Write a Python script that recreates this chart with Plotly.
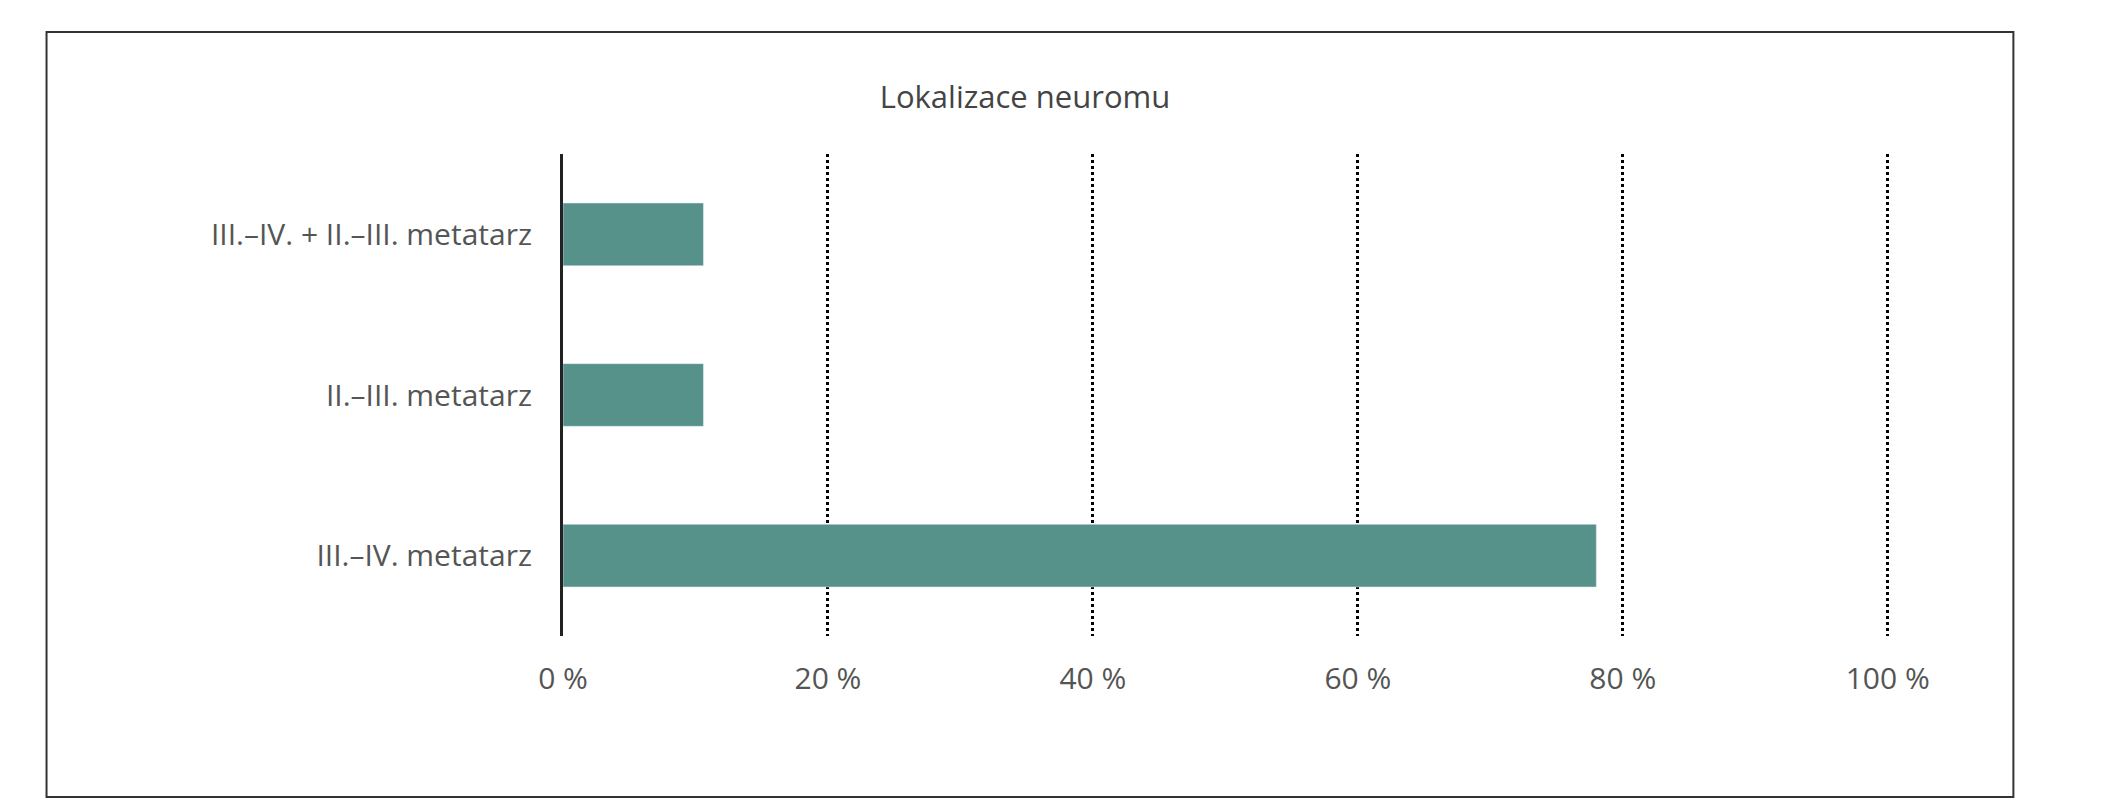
import plotly.graph_objects as go

categories = ["III.–IV. metatarz", "II.–III. metatarz", "III.–IV. + II.–III. metatarz"]
values = [78.0, 10.6, 10.6]
tick_vals = [0, 20, 40, 60, 80, 100]
tick_text = ["0 %", "20 %", "40 %", "60 %", "80 %", "100 %"]

fig = go.Figure()
fig.add_trace(go.Bar(x=values, y=categories, orientation="h",
                     marker_color="#56918A", width=0.39))

fig.update_layout(
    width=2119, height=800,
    paper_bgcolor="white", plot_bgcolor="white",
    margin=dict(l=555, r=226, t=146, b=172),
    font=dict(family="Open Sans", size=30, color="#555555"),
    title=dict(text="Lokalizace neuromu", x=(1017 - 0) / 2119 + 0.0, xanchor="center",
               y=1 - 89 / 800, yanchor="middle", font=dict(size=31, color="#444444")),
    showlegend=False,
    bargap=0.6,
)
fig.update_xaxes(range=[0, 101], tickvals=tick_vals, ticktext=tick_text,
                 showgrid=True, gridcolor="black", griddash="dot", gridwidth=2.5,
                 zeroline=False, showline=False, ticks="", ticklabelstandoff=22)
fig.update_yaxes(range=[-0.5, 2.5], showgrid=False, showline=True, linecolor="#222222",
                 linewidth=3, ticks="", ticklabelstandoff=22)

fig.add_shape(type="rect", xref="paper", yref="paper",
              x0=-0.386, x1=1.084, y0=-0.334, y1=1.253,
              line=dict(color="#333333", width=2))

fig.write_html("out.html")
